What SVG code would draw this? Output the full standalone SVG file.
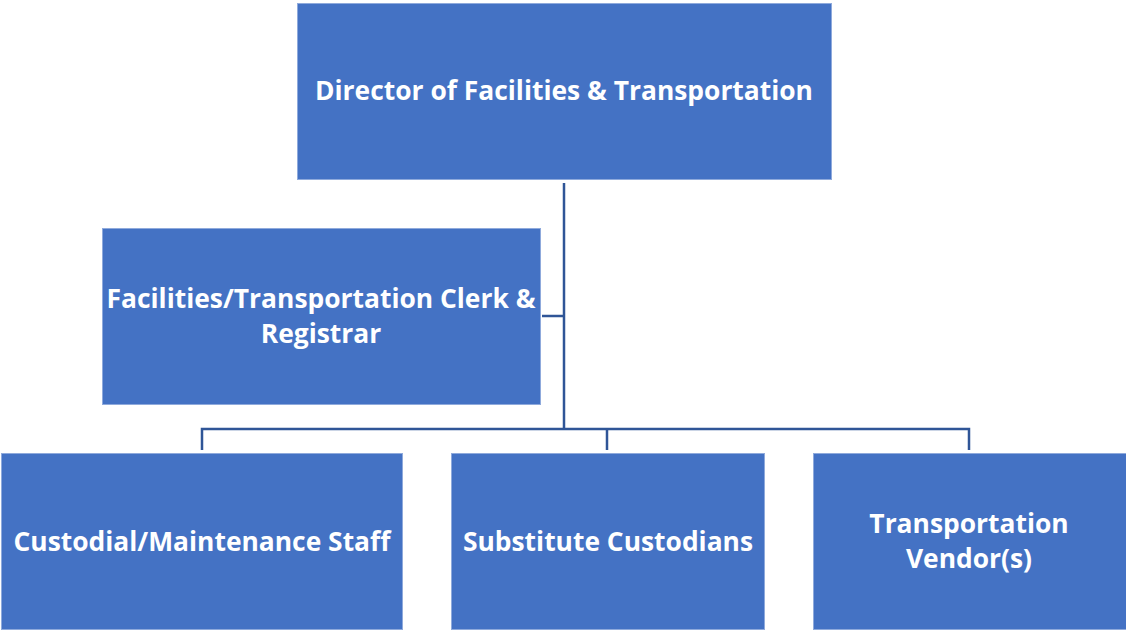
<svg xmlns="http://www.w3.org/2000/svg" width="1126" height="630" viewBox="0 0 1126 630">
<style>
.box{fill:#4472C4;stroke:#8FAADC;stroke-width:1}
.lbl{font-family:"Open Sans","Liberation Sans",sans-serif;font-weight:bold;font-size:26.4px;fill:#FFFFFF;text-anchor:middle;font-variant-ligatures:none}
.con{fill:none;stroke:#2F5597;stroke-width:2.5}
</style>
<rect width="1126" height="630" fill="#FFFFFF"/>
<g id="connectors">
<path class="con" d="M564 183 V429"/>
<path class="con" d="M542 316 H564"/>
<path class="con" d="M202 450 V429 H969 V450"/>
<path class="con" d="M607 429 V450"/>
</g>
<g id="director">
<rect class="box" x="297.5" y="3.5" width="534" height="176"/>
<text class="lbl" x="564" y="100">Director of Facilities &amp; Transportation</text>
</g>
<g id="clerk">
<rect class="box" x="102.5" y="228.5" width="438" height="176"/>
<text class="lbl" x="321" y="308">Facilities/Transportation Clerk &amp;</text>
<text class="lbl" x="321" y="343">Registrar</text>
</g>
<g id="custodial">
<rect class="box" x="1.5" y="453.5" width="401" height="176"/>
<text class="lbl" x="202" y="551">Custodial/Maintenance Staff</text>
</g>
<g id="substitute">
<rect class="box" x="451.5" y="453.5" width="313" height="176"/>
<text class="lbl" x="608" y="551">Substitute Custodians</text>
</g>
<g id="vendor">
<rect class="box" x="813.5" y="453.5" width="313" height="176"/>
<text class="lbl" x="969" y="533">Transportation</text>
<text class="lbl" x="969" y="568">Vendor(s)</text>
</g>
</svg>
